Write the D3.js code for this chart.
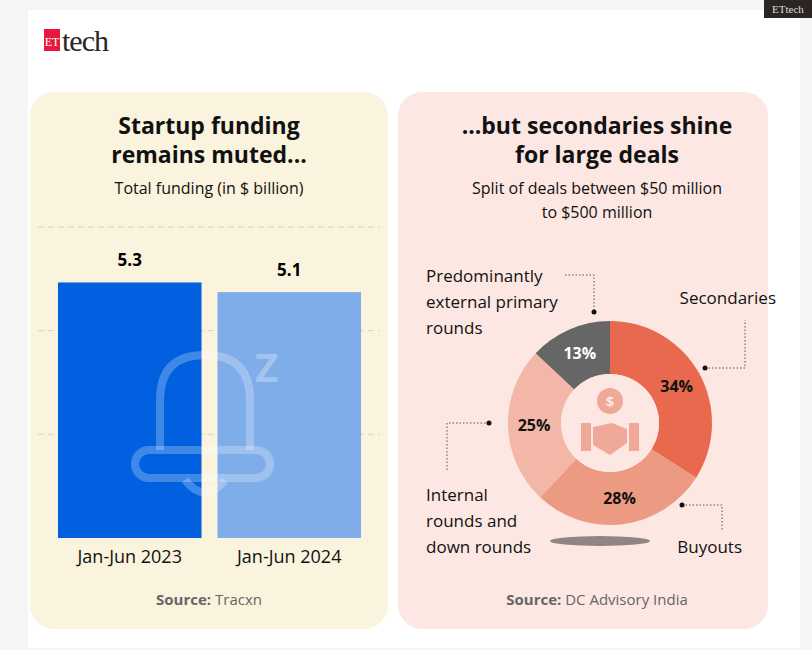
<!DOCTYPE html>
<html><head><meta charset="utf-8">
<script src="https://cdn.jsdelivr.net/npm/d3@7"></script>
<style>body{margin:0;background:#f5f5f5;font-family:"Open Sans",sans-serif}</style>
</head><body><svg id="c" width="812" height="650"></svg>
<script>
const periods = ["Jan-Jun 2023", "Jan-Jun 2024"];
const funding = [5.3, 5.1];
const gridValues = [2.15, 4.3, 6.45];
const dealTypes = ["Secondaries", "Buyouts", "Internal rounds and down rounds", "Predominantly external primary rounds"];
const dealShares = [34, 28, 25, 13];
const dealColors = ["#e8694d", "#ec9a82", "#f2b7a6", "#666666"];

const svg = d3.select("#c");
svg.append("rect").attr("x", 28).attr("y", 10).attr("width", 772).attr("height", 638).attr("fill", "#fff");
svg.append("rect").attr("x", 764).attr("y", 0).attr("width", 48).attr("height", 18).attr("fill", "#2b2623");
svg.append("text").attr("x", 788).attr("y", 13).attr("text-anchor", "middle").attr("fill", "#ddd")
  .attr("font-family", "Liberation Serif").attr("font-size", 11).text("ETtech");
// logo
svg.append("rect").attr("x", 44).attr("y", 29).attr("width", 16).attr("height", 22).attr("fill", "#e8173c");
svg.append("text").attr("x", 52).attr("y", 46).attr("text-anchor", "middle").attr("fill", "#fff")
  .attr("font-family", "Liberation Serif").attr("font-size", 12).text("ET");
svg.append("text").attr("x", 62).attr("y", 51).attr("fill", "#2b2623")
  .attr("font-family", "Liberation Serif").attr("font-size", 30).attr("letter-spacing", -1).text("tech");

// panels
svg.append("rect").attr("x", 30).attr("y", 92).attr("width", 358).attr("height", 537).attr("rx", 24).attr("fill", "#faf3dd");
svg.append("rect").attr("x", 398).attr("y", 92).attr("width", 370).attr("height", 537).attr("rx", 24).attr("fill", "#fce7e3");

function lines(x, y, arr, opts) {
  const t = svg.append("text").attr("x", x).attr("y", y).attr("text-anchor", opts.anchor || "middle")
    .attr("font-size", opts.size).attr("font-weight", opts.weight || 400).attr("fill", opts.fill || "#111");
  arr.forEach((s, i) => t.append("tspan").attr("x", x).attr("dy", i ? opts.lh : 0).text(s));
}
lines(209, 134, ["Startup funding", "remains muted..."], {size: 23, weight: 700, lh: 29});
lines(209, 194, ["Total funding (in $ billion)"], {size: 16});
lines(597, 134, ["...but secondaries shine", "for large deals"], {size: 23, weight: 700, lh: 29});
lines(597, 194, ["Split of deals between $50 million", "to $500 million"], {size: 16, lh: 24});

// bar chart
const x = d3.scaleBand().domain(periods).range([50, 369]).paddingInner(0.1).paddingOuter(0.05);
const y = d3.scaleLinear().domain([0, 6.45]).range([538, 227]);
svg.append("g").selectAll("line").data(gridValues).join("line")
  .attr("x1", 38).attr("x2", 380).attr("y1", d => y(d)).attr("y2", d => y(d))
  .attr("stroke", "#d8d2c0").attr("stroke-dasharray", "6,4");
svg.append("g").selectAll("rect").data(funding).join("rect")
  .attr("x", (d, i) => x(periods[i])).attr("width", x.bandwidth())
  .attr("y", d => y(d)).attr("height", d => y(0) - y(d))
  .attr("fill", (d, i) => i ? "#7fadea" : "#0060e0");
svg.append("g").selectAll("text").data(funding).join("text")
  .attr("x", (d, i) => x(periods[i]) + x.bandwidth() / 2).attr("y", d => y(d) - 16)
  .attr("text-anchor", "middle").attr("font-size", 17).attr("font-weight", 700).text(d => d);
// faint bell icon
const ic = svg.append("g").attr("fill", "none").attr("stroke", "#fff").attr("stroke-opacity", 0.25).attr("stroke-width", 8);
ic.append("path").attr("d", "M160,450 L160,400 Q160,355 205,355 Q250,355 250,400 L250,450");
ic.append("rect").attr("x", 135).attr("y", 450).attr("width", 135).attr("height", 28).attr("rx", 14);
ic.append("path").attr("d", "M185,480 Q205,505 225,480");
svg.append("text").attr("x", 255).attr("y", 382).attr("font-size", 40).attr("font-weight", 700)
  .attr("fill", "#fff").attr("fill-opacity", 0.3).text("Z");
svg.append("g").call(d3.axisBottom(x).tickSize(0).tickPadding(12)).attr("transform", "translate(0,538)")
  .call(g => g.select(".domain").remove())
  .call(g => g.selectAll("text").attr("font-size", 18).attr("fill", "#111").attr("font-family", "Open Sans"));
const src = (xx, name) => {
  const t = svg.append("text").attr("x", xx).attr("y", 605).attr("text-anchor", "middle").attr("font-size", 15).attr("fill", "#666");
  t.append("tspan").attr("font-weight", 700).text("Source: ");
  t.append("tspan").text(name);
};
src(209, "Tracxn"); src(597, "DC Advisory India");

// donut
const cx = 610, cy = 423;
const pie = d3.pie().sort(null)(dealShares);
const arc = d3.arc().innerRadius(49).outerRadius(102);
const dg = svg.append("g").attr("transform", `translate(${cx},${cy})`);
dg.append("ellipse").attr("cx", -10).attr("cy", 118).attr("rx", 50).attr("ry", 5).attr("fill", "#444").attr("opacity", 0.6);
dg.selectAll("path").data(pie).join("path").attr("d", arc).attr("fill", (d, i) => dealColors[i]);
dg.append("circle").attr("r", 49).attr("fill", "#fce7e3");
dg.selectAll("text.pct").data(pie).join("text").attr("class", "pct")
  .attr("transform", d => `translate(${d3.arc().innerRadius(76).outerRadius(76).centroid(d)})`)
  .attr("text-anchor", "middle").attr("dy", "0.35em").attr("font-size", 16).attr("font-weight", 700)
  .attr("fill", (d, i) => i === 3 ? "#fff" : "#111").text(d => d.data + "%");
// centre icon
dg.append("circle").attr("cy", -22).attr("r", 13).attr("fill", "#f0a898");
dg.append("text").attr("y", -16).attr("text-anchor", "middle").attr("font-size", 15).attr("font-weight", 700).attr("fill", "#fce7e3").text("$");
dg.append("rect").attr("x", -29).attr("y", 0).attr("width", 10).attr("height", 28).attr("fill", "#f0a898");
dg.append("rect").attr("x", 19).attr("y", 0).attr("width", 10).attr("height", 28).attr("fill", "#f0a898");
dg.append("path").attr("d", "M-17,4 L2,0 L17,6 L17,20 L0,32 L-17,22 Z").attr("fill", "#f0a898");

// leaders
const lead = (pts, dot) => {
  svg.append("path").attr("d", d3.line()(pts)).attr("fill", "none").attr("stroke", "#555").attr("stroke-dasharray", "1.5,2");
  svg.append("circle").attr("cx", dot[0]).attr("cy", dot[1]).attr("r", 2.5).attr("fill", "#111");
};
lead([[565, 275], [594, 275], [594, 312]], [594, 312]);
lead([[705, 368], [745, 368], [745, 320]], [705, 368]);
lead([[682, 505], [722, 505], [722, 530]], [682, 505]);
lead([[489, 423], [447, 423], [447, 472]], [489, 423]);
lines(426, 282, ["Predominantly", "external primary", "rounds"], {size: 17, anchor: "start", lh: 26});
lines(776, 304, ["Secondaries"], {size: 17, anchor: "end"});
lines(426, 501, ["Internal", "rounds and", "down rounds"], {size: 17, anchor: "start", lh: 26});
lines(742, 553, ["Buyouts"], {size: 17, anchor: "end"});
</script></body></html>
